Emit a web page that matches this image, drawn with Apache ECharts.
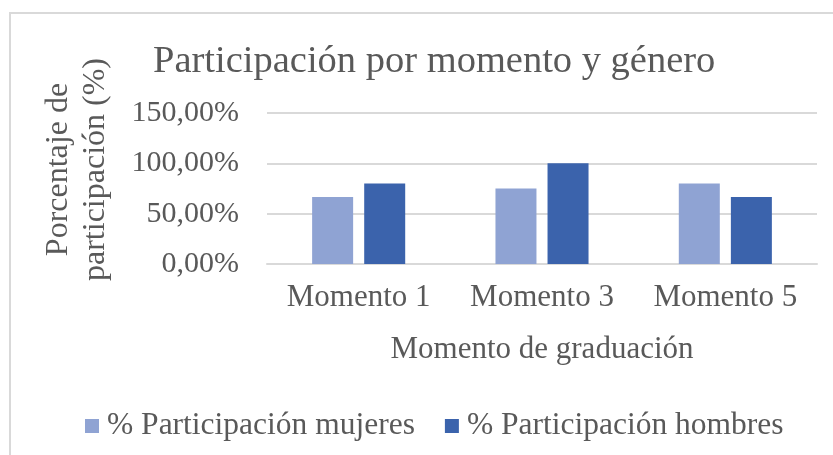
<!DOCTYPE html>
<html>
<head>
<meta charset="utf-8" />
<title>Participación por momento y género</title>
<style>
  html, body { margin: 0; padding: 0; background: #fff; }
  #chartmain { width: 833px; height: 455px; }
</style>
</head>
<body>
<div id="chartmain"></div>
<script src="https://cdn.jsdelivr.net/npm/echarts@6/dist/echarts.min.js"></script>
<script type="text/javascript">
// datos
var momentos = ['Momento 1', 'Momento 3', 'Momento 5'];
var mujeres = [66.67, 75.00, 80.00];
var hombres = [80.00, 100.00, 66.67];
var yTicks = [0, 50, 100, 150];

var fuente = 'Liberation Serif';
var gris = '#595959';

function pct(v) {
  return v.toFixed(2).replace('.', ',') + '%';
}

var option = {
  textStyle: { fontFamily: fuente, color: gris },
  graphic: [{
    type: 'rect',
    shape: { x: 10, y: 13, width: 900, height: 500 },
    style: { fill: 'none', stroke: '#d9d9d9', lineWidth: 2 },
    silent: true
  }],
  title: {
    text: 'Participación por momento y género',
    left: 148,
    top: 37,
    textStyle: { fontFamily: fuente, fontSize: 38.5, fontWeight: 'normal', color: gris }
  },
  legend: {
    data: ['% Participación mujeres', '% Participación hombres'],
    left: 80,
    top: 405,
    icon: 'rect',
    itemWidth: 14,
    itemHeight: 14,
    itemGap: 30,
    textStyle: { fontFamily: fuente, fontSize: 31.5, color: gris, padding: [0, 0, 0, 3] }
  },
  grid: { left: 267, right: 16, top: 113, bottom: 191 },
  xAxis: {
    type: 'category',
    data: momentos,
    name: 'Momento de graduación',
    nameLocation: 'middle',
    nameGap: 70,
    nameTextStyle: { fontFamily: fuente, fontSize: 31, color: gris },
    axisLine: { lineStyle: { color: '#d9d9d9', width: 2 } },
    axisTick: { show: false },
    axisLabel: { fontFamily: fuente, fontSize: 31, color: gris, margin: 18, interval: 0 }
  },
  yAxis: {
    type: 'value',
    min: yTicks[0],
    max: yTicks[yTicks.length - 1],
    interval: yTicks[1] - yTicks[0],
    name: 'Porcentaje de\nparticipación (%)',
    nameLocation: 'middle',
    nameGap: 153,
    nameTextStyle: { fontFamily: fuente, fontSize: 32, color: gris, lineHeight: 37, padding: [0, 0, 0, 38] },
    axisLine: { show: false },
    axisTick: { show: false },
    splitLine: { lineStyle: { color: '#d9d9d9', width: 2 } },
    axisLabel: { fontFamily: fuente, fontSize: 30, color: gris, margin: 28, formatter: pct }
  },
  series: [{
    name: '% Participación mujeres',
    type: 'bar',
    data: mujeres,
    barWidth: 41,
    barGap: '27%',
    itemStyle: { color: '#8fa3d3' }
  }, {
    name: '% Participación hombres',
    type: 'bar',
    data: hombres,
    barWidth: 41,
    itemStyle: { color: '#3b63ac' }
  }]
};

var myChart = echarts.init(document.getElementById('chartmain'));
myChart.setOption(option);
</script>
</body>
</html>
